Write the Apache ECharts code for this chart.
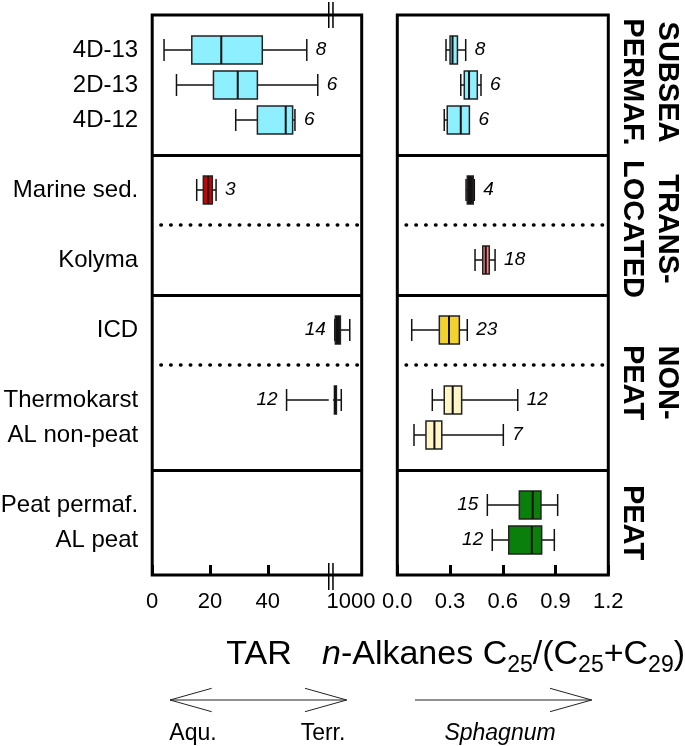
<!DOCTYPE html>
<html><head><meta charset="utf-8">
<script src="https://cdn.jsdelivr.net/npm/echarts@6/dist/echarts.min.js"></script>
<style>html,body{margin:0;padding:0;background:#fff}#c{width:685px;height:746px}</style>
</head><body><div id="c"></div>
<script>
// ---------- DATA ----------
const categories = ['4D-13','2D-13','4D-12','Marine sed.','Kolyma','ICD','Thermokarst','AL non-peat','Peat permaf.','AL peat'];
const groupOfRow    = [0,0,0,1,1,2,2,2,3,3];
const subgroupOfRow = [0,0,0,0,1,0,1,1,0,0];
const groupNames = ['SUBSEA\nPERMAF.','TRANS-\nLOCATED','NON-\nPEAT','PEAT'];

// [min, Q1, median, Q3, max]
const tarStats = [
  [4.1, 13.7, 23.9, 38.1, 53.5],
  [8.4, 21.2, 29.6, 36.4, 57.3],
  [28.9, 36.4, 46.2, 48.6, 49.4],
  [15.4, 17.7, 19.4, 20.8, 22.1],
  null,
  [910, 913, 927, 941, 993],
  [46.5, 908, 913, 919, 946],
  null, null, null
];
const tarN = [8,6,6,3,null,14,12,null,null,null];

const c25Stats = [
  [0.277, 0.300, 0.314, 0.342, 0.389],
  [0.361, 0.381, 0.408, 0.455, 0.476],
  [0.267, 0.284, 0.361, 0.410, 0.410],
  [0.391, 0.398, 0.413, 0.432, 0.438],
  [0.442, 0.486, 0.503, 0.523, 0.556],
  [0.082, 0.239, 0.294, 0.353, 0.398],
  [0.199, 0.267, 0.315, 0.366, 0.685],
  [0.095, 0.163, 0.211, 0.253, 0.603],
  [0.512, 0.694, 0.770, 0.817, 0.912],
  [0.540, 0.634, 0.765, 0.821, 0.893]
];
const c25N = [8,6,6,4,18,23,12,7,15,12];

const tarTickValues = [0, 20, 40, 1000];
const tarTickLabels = ['0', '20', '40', '1000'];
const c25TickValues = [0, 0.3, 0.6, 0.9, 1.2];
const c25TickLabels = ['0.0', '0.3', '0.6', '0.9', '1.2'];

// ---------- STYLE / LAYOUT CONFIG ----------
const FONT = '"Liberation Sans", Arial, sans-serif';
const CYAN = '#8ef0ff';
const tarFill = [CYAN, CYAN, CYAN, '#d40000', null, '#111111', '#111111', null, null, null];
const c25Fill = [CYAN, CYAN, CYAN, '#161010', '#f28282', '#f1d22e', '#fff5c6', '#fff5c6', '#0a7f0a', '#0a7f0a'];
const tarLabelLeft = ['ICD', 'Thermokarst'];
const c25LabelLeft = ['Peat permaf.', 'AL peat'];

// broken TAR axis: linear up to lo, gap, then compressed high-value segment
const TAR_BREAK = { lo: 61.1, hi: 62.56, resume: 900, perUnit: 16, axisMax: 72.5 };
function tarToAxis(v) { return v <= TAR_BREAK.lo ? v : TAR_BREAK.hi + (v - TAR_BREAK.resume) / TAR_BREAK.perUnit; }

// ---------- BUILD SLOTS ----------
const slots = [''];
const rowSlot = [];
const solidDividers = [], dottedDividers = [];
const groupBounds = [];
let gStart = 0;
categories.forEach((name, i) => {
  if (i > 0) {
    if (groupOfRow[i] !== groupOfRow[i - 1]) {
      slots.push(''); solidDividers.push(slots.length - 1);
      groupBounds.push([gStart, slots.length - 1]); gStart = slots.length - 1;
    } else if (subgroupOfRow[i] !== subgroupOfRow[i - 1]) {
      slots.push(''); dottedDividers.push(slots.length - 1);
    }
  }
  slots.push(name); rowSlot.push(slots.length - 1);
});
slots.push('');
groupBounds.push([gStart, slots.length - 1]);

function seriesData(stats, ns, tf) {
  const out = [];
  stats.forEach((s, i) => { if (s) out.push([rowSlot[i]].concat(s.map(tf), [ns[i], i])); });
  return out;
}

function makeRender(fills, leftRows, useBreak) {
  return function (params, api) {
    const slot = api.value(0);
    const xs = [1, 2, 3, 4, 5].map(k => api.coord([api.value(k), slot])[0]);
    const cy = api.coord([api.value(1), slot])[1];
    const n = api.value(6), row = api.value(7);
    const BH = 28, CH = 22, lw = 1.5, ink = '#111';
    const kids = [];
    const seg = (x1, x2) => { if (x2 - x1 > 0.1) kids.push({ type: 'line', shape: { x1: x1, y1: cy, x2: x2, y2: cy }, style: { stroke: ink, lineWidth: lw } }); };
    const hline = (x1, x2) => {
      if (useBreak) {
        const b1 = api.coord([TAR_BREAK.lo, slot])[0], b2 = api.coord([TAR_BREAK.hi, slot])[0];
        if (x1 < b1 && x2 > b2) { seg(x1, b1); seg(b2, x2); return; }
      }
      seg(x1, x2);
    };
    hline(xs[0], xs[1]); hline(xs[3], xs[4]);
    const cap = x => kids.push({ type: 'line', shape: { x1: x, y1: cy - CH / 2, x2: x, y2: cy + CH / 2 }, style: { stroke: ink, lineWidth: lw } });
    if (xs[1] - xs[0] > 0.5) cap(xs[0]);
    if (xs[4] - xs[3] > 0.5) cap(xs[4]);
    kids.push({ type: 'rect', shape: { x: xs[1], y: cy - BH / 2, width: Math.max(xs[3] - xs[1], 1), height: BH }, style: { fill: fills[row], stroke: '#222', lineWidth: lw } });
    kids.push({ type: 'line', shape: { x1: xs[2], y1: cy - BH / 2, x2: xs[2], y2: cy + BH / 2 }, style: { stroke: ink, lineWidth: 2 } });
    const left = leftRows.indexOf(categories[row]) >= 0;
    kids.push({ type: 'text', x: left ? xs[0] - 9 : xs[4] + 9, y: cy,
      style: { text: String(n), fontSize: 19, fontStyle: 'italic', fontFamily: FONT, fill: '#000', align: left ? 'right' : 'left', verticalAlign: 'middle' } });
    return { type: 'group', children: kids };
  };
}

function dividerLines(dotStart, xMax) {
  const solid = { type: 'solid', width: 3, color: '#000' };
  const dotted = { type: [0.5, 9.3], width: 3.5, color: '#000', cap: 'round' };
  return solidDividers.map(s => ({ yAxis: s, lineStyle: solid }))
    .concat(dottedDividers.map(s => [{ coord: [dotStart, s], lineStyle: dotted }, { coord: [xMax, s], lineStyle: dotted }]));
}

const chart = echarts.init(document.getElementById('c'), null, { renderer: 'canvas', width: 685, height: 746 });

function labelFor(values, labels) {
  return v => { for (let i = 0; i < values.length; i++) if (Math.abs(values[i] - v) < 1e-6) return labels[i]; return ''; };
}

const gridCommon = { top: 15, height: 560, show: true, borderColor: '#000', borderWidth: 3, backgroundColor: 'transparent', containLabel: false, outerBoundsMode: 'none' };
const tickStyle = { show: true, inside: true, length: 10, lineStyle: { width: 3, color: '#000' } };

chart.setOption({
  animation: false,
  textStyle: { fontFamily: FONT },
  grid: [
    Object.assign({ left: 152.2, width: 209.5 }, gridCommon),
    Object.assign({ left: 397.3, width: 211 }, gridCommon)
  ],
  xAxis: [
    { gridIndex: 0, type: 'value', min: 0, max: TAR_BREAK.axisMax,
      axisLine: { show: false }, splitLine: { show: false },
      axisTick: Object.assign({ customValues: [0, 20, 40] }, tickStyle),
      axisLabel: { customValues: tarTickValues.map(tarToAxis), formatter: labelFor(tarTickValues.map(tarToAxis), tarTickLabels),
        fontSize: 22, color: '#000', margin: 16, fontFamily: FONT, showMinLabel: true, showMaxLabel: true } },
    { gridIndex: 1, type: 'value', min: 0, max: 1.2,
      axisLine: { show: false }, splitLine: { show: false },
      axisTick: Object.assign({ customValues: c25TickValues }, tickStyle),
      axisLabel: { customValues: c25TickValues, formatter: labelFor(c25TickValues, c25TickLabels),
        fontSize: 22, color: '#000', margin: 16, fontFamily: FONT, showMinLabel: true, showMaxLabel: true } }
  ],
  yAxis: [
    { gridIndex: 0, type: 'category', data: slots, inverse: true, boundaryGap: false,
      axisLine: { show: false }, axisTick: { show: false }, splitLine: { show: false },
      axisLabel: { show: true, interval: 0, fontSize: 24, color: '#000', margin: 14, fontFamily: FONT } },
    { gridIndex: 1, type: 'category', data: slots, inverse: true, boundaryGap: false,
      axisLine: { show: false }, axisTick: { show: false }, splitLine: { show: false }, axisLabel: { show: false } }
  ],
  series: [
    { type: 'custom', name: 'TAR', xAxisIndex: 0, yAxisIndex: 0,
      data: seriesData(tarStats, tarN, tarToAxis), encode: { x: [1, 2, 3, 4, 5], y: 0 },
      renderItem: makeRender(tarFill, tarLabelLeft, true),
      markLine: { symbol: 'none', silent: true, animation: false, label: { show: false }, data: dividerLines(3, TAR_BREAK.axisMax) } },
    { type: 'custom', name: 'C25', xAxisIndex: 1, yAxisIndex: 1,
      data: seriesData(c25Stats, c25N, v => v), encode: { x: [1, 2, 3, 4, 5], y: 0 },
      renderItem: makeRender(c25Fill, c25LabelLeft, false),
      markLine: { symbol: 'none', silent: true, animation: false, label: { show: false }, data: dividerLines(0.05, 1.2) } }
  ]
});

// ---------- ANNOTATIONS ----------
const yPix = s => chart.convertToPixel({ yAxisIndex: 1 }, s);
const gTop = yPix(0), gBot = yPix(slots.length - 1);
const bx1 = chart.convertToPixel({ xAxisIndex: 0 }, TAR_BREAK.lo);
const bx2 = chart.convertToPixel({ xAxisIndex: 0 }, TAR_BREAK.hi);
const graphics = [];
[bx1, bx2].forEach(x => {
  graphics.push({ type: 'line', shape: { x1: x, y1: gTop - 13, x2: x, y2: gTop + 13 }, style: { stroke: '#000', lineWidth: 1.5 }, z: 100 });
  graphics.push({ type: 'line', shape: { x1: x, y1: gBot - 12, x2: x, y2: gBot + 15 }, style: { stroke: '#000', lineWidth: 1.5 }, z: 100 });
});
const groupShift = [-3, 4, 0, 0];
groupBounds.forEach((b, g) => {
  const cy = (yPix(b[0]) + yPix(b[1])) / 2 + groupShift[g];
  graphics.push({ type: 'text', x: 614, y: cy, rotation: -Math.PI / 2,
    style: { text: groupNames[g], fontSize: 29, fontWeight: 'bold', fontFamily: FONT, fill: '#000', align: 'center', verticalAlign: 'bottom', lineHeight: 35 } });
});
graphics.push({ type: 'text', x: 259, y: 654.5, style: { text: 'TAR', fontSize: 34, fontFamily: FONT, fill: '#000', align: 'center', verticalAlign: 'middle' } });
graphics.push({ type: 'text', x: 322, y: 654.5, style: {
  text: '{i|n}-Alkanes C{s|25}/(C{s|25}+C{s|29})', fontSize: 34, lineHeight: 46, fontFamily: FONT, fill: '#000', align: 'left', verticalAlign: 'middle',
  rich: { i: { fontStyle: 'italic', fontSize: 34, lineHeight: 46, fontFamily: FONT }, s: { fontSize: 23, lineHeight: 20, verticalAlign: 'bottom', fontFamily: FONT } } } });
const arrowStyle = { stroke: '#222', lineWidth: 1, fill: null };
graphics.push({ type: 'line', shape: { x1: 170, y1: 700, x2: 346.7, y2: 700 }, style: arrowStyle });
graphics.push({ type: 'polyline', shape: { points: [[211.7, 688.3], [170, 700], [211.7, 711.7]] }, style: arrowStyle });
graphics.push({ type: 'polyline', shape: { points: [[305, 688.3], [346.7, 700], [305, 711.7]] }, style: arrowStyle });
graphics.push({ type: 'line', shape: { x1: 415, y1: 700, x2: 591.7, y2: 700 }, style: arrowStyle });
graphics.push({ type: 'polyline', shape: { points: [[550, 688.3], [591.7, 700], [550, 711.7]] }, style: arrowStyle });
graphics.push({ type: 'text', x: 193, y: 733.5, style: { text: 'Aqu.', fontSize: 23, fontFamily: FONT, fill: '#000', align: 'center', verticalAlign: 'middle' } });
graphics.push({ type: 'text', x: 323, y: 733.5, style: { text: 'Terr.', fontSize: 23, fontFamily: FONT, fill: '#000', align: 'center', verticalAlign: 'middle' } });
graphics.push({ type: 'text', x: 500, y: 733.5, style: { text: 'Sphagnum', fontSize: 23, fontStyle: 'italic', fontFamily: FONT, fill: '#000', align: 'center', verticalAlign: 'middle' } });
chart.setOption({ graphic: graphics });
</script>
</body></html>
